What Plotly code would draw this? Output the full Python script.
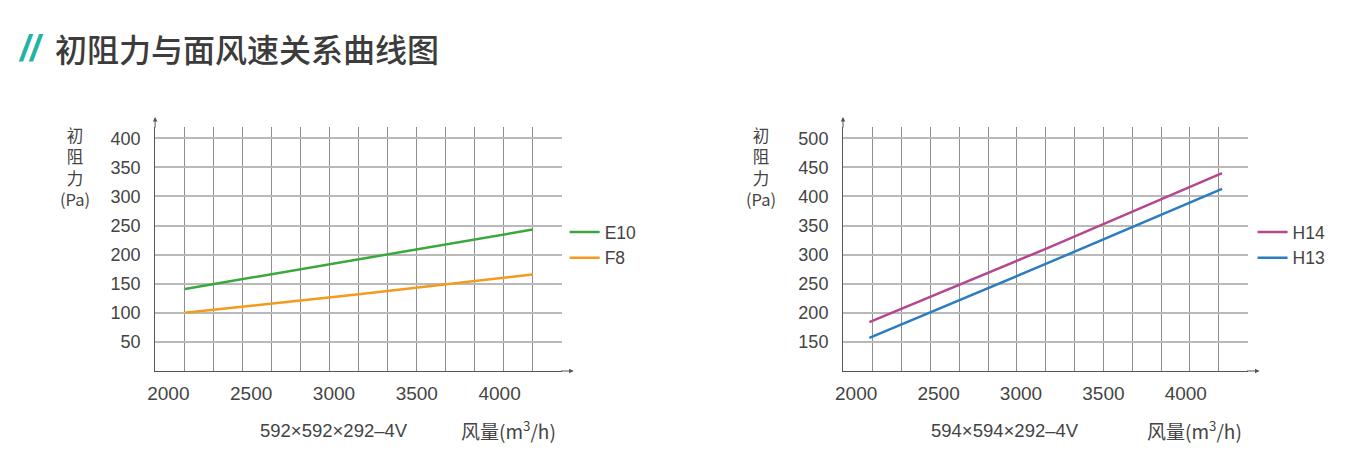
import plotly.graph_objects as go

# chart data
airflow = [2100, 3150, 4200]
e10 = [141, 192, 243]
f8 = [100, 132, 166]
airflow_r = [2080, 3150, 4220]
h14 = [184, 310, 440]
h13 = [157, 284, 413]

x_tick_vals = [2000, 2500, 3000, 3500, 4000]
x_tick_text = ["2000", "2500", "3000", "3500", "4000"]
grid_x = [2100, 2275, 2450, 2625, 2800, 2975, 3150, 3325, 3500, 3675, 3850, 4025, 4200]
y_ticks_left = [50, 100, 150, 200, 250, 300, 350, 400]
y_ticks_right = [150, 200, 250, 300, 350, 400, 450, 500]

W, H = 1346, 470
TXT = "#444444"
FONT = "Liberation Sans, Noto Sans CJK SC, sans-serif"
CJK = "Noto Sans CJK SC, sans-serif"


def px(v):
    return v / W


def py(v):
    return 1 - v / H


fig = go.Figure()

fig.add_trace(go.Scatter(x=airflow, y=e10, mode="lines", name="E10",
                         line=dict(color="#3aa83c", width=2.5),
                         xaxis="x", yaxis="y", legend="legend"))
fig.add_trace(go.Scatter(x=airflow, y=f8, mode="lines", name="F8",
                         line=dict(color="#f39a1f", width=2.5),
                         xaxis="x", yaxis="y", legend="legend"))
fig.add_trace(go.Scatter(x=airflow_r, y=h14, mode="lines", name="H14",
                         line=dict(color="#b4478e", width=2.5),
                         xaxis="x2", yaxis="y2", legend="legend2"))
fig.add_trace(go.Scatter(x=airflow_r, y=h13, mode="lines", name="H13",
                         line=dict(color="#2b7cc0", width=2.5),
                         xaxis="x2", yaxis="y2", legend="legend2"))


def xaxis_cfg(left, right, anchor):
    return dict(
        domain=[px(left), px(right)], range=[1920, 4375], anchor=anchor,
        tickmode="array", tickvals=x_tick_vals, ticktext=x_tick_text,
        showgrid=False, zeroline=False, showline=True, linecolor="#555555", linewidth=1,
        ticks="", ticklabelstandoff=5,
        tickfont=dict(family=FONT, size=19, color=TXT),
        minor=dict(tickmode="array", tickvals=grid_x, showgrid=True,
                   gridcolor="#8e8e8e", gridwidth=1, ticks=""),
        fixedrange=True,
    )


def yaxis_cfg(rng, ticks, anchor):
    return dict(
        domain=[py(371), py(127)], range=rng, anchor=anchor,
        tickmode="array", tickvals=ticks,
        showgrid=True, gridcolor="#b9b9b9", gridwidth=1.5,
        zeroline=False, showline=True, linecolor="#555555", linewidth=1,
        ticks="", ticklabelstandoff=10,
        tickfont=dict(family=FONT, size=18, color=TXT),
        fixedrange=True,
    )


legend_common = dict(
    xanchor="left", yanchor="middle", bgcolor="rgba(0,0,0,0)",
    font=dict(family=FONT, size=17.5, color=TXT), itemwidth=30,
    tracegroupgap=0,
)

fig.update_layout(
    width=W, height=H,
    margin=dict(l=0, r=0, t=0, b=0),
    paper_bgcolor="white", plot_bgcolor="white",
    xaxis=xaxis_cfg(148, 557, "y"),
    yaxis=yaxis_cfg([0, 419.3], y_ticks_left, "x"),
    xaxis2=xaxis_cfg(840, 1247, "y2"),
    yaxis2=yaxis_cfg([100, 519.3], y_ticks_right, "x2"),
    legend=dict(x=px(560), y=py(245), **legend_common),
    legend2=dict(x=px(1252), y=py(245), **legend_common),
    showlegend=True,
)

annotations = [
    dict(text="<b><i>//</i></b>", x=px(8), y=py(48), xanchor="left", yanchor="middle",
         font=dict(family=FONT, size=36, color="#22b3a2")),
    dict(text="初阻力与面风速关系曲线图", x=px(45), y=py(48), xanchor="left", yanchor="middle",
         font=dict(family=CJK, size=32, color="#3c3c3c", weight=500)),
    dict(text="初<br>阻<br>力<br>(Pa)", x=px(67), y=py(167), xanchor="center", yanchor="middle",
         font=dict(family=CJK, size=16.5, color=TXT)),
    dict(text="初<br>阻<br>力<br>(Pa)", x=px(758), y=py(167), xanchor="center", yanchor="middle",
         font=dict(family=CJK, size=16.5, color=TXT)),
    dict(text="592×592×292–4V", x=px(328), y=py(430), xanchor="center", yanchor="middle",
         font=dict(family=FONT, size=18.5, color=TXT)),
    dict(text="风量(m<sup>3</sup>/h)", x=px(503), y=py(430), xanchor="center", yanchor="middle",
         font=dict(family=CJK, size=19, color=TXT)),
    dict(text="594×594×292–4V", x=px(1003), y=py(430), xanchor="center", yanchor="middle",
         font=dict(family=FONT, size=18.5, color=TXT)),
    dict(text="风量(m<sup>3</sup>/h)", x=px(1194), y=py(430), xanchor="center", yanchor="middle",
         font=dict(family=CJK, size=19, color=TXT)),
]
for a in annotations:
    a.update(xref="paper", yref="paper", showarrow=False)

# small arrow heads at the ends of the axes
for x0, x_end, x1 in [(148, 557, 569), (840, 1247, 1259)]:
    annotations.append(dict(xref="paper", yref="paper", x=px(x1), y=py(371),
                            ax=-(x1 - x_end + 2), ay=0, axref="pixel", ayref="pixel",
                            text="", showarrow=True, arrowhead=2, arrowsize=0.9,
                            arrowwidth=1, arrowcolor="#555555", standoff=0))
    annotations.append(dict(xref="paper", yref="paper", x=px(x0), y=py(117),
                            ax=0, ay=12, axref="pixel", ayref="pixel",
                            text="", showarrow=True, arrowhead=2, arrowsize=0.9,
                            arrowwidth=1, arrowcolor="#555555", standoff=0))

fig.update_layout(annotations=annotations)

# drop the page's default body margin so the figure sits at the window origin
fig.write_html("out.html", config={"displayModeBar": False},
               post_script="document.body.style.margin='0';")
